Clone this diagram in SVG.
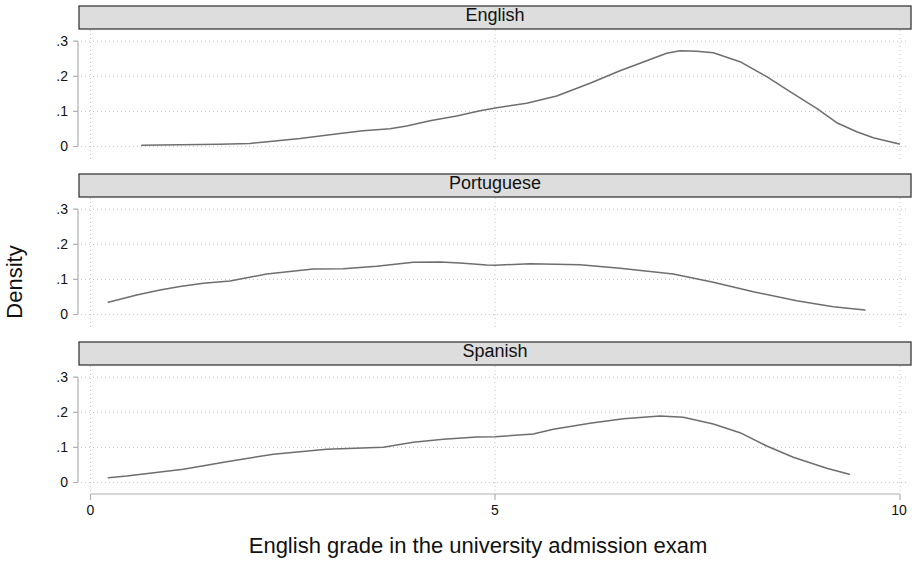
<svg xmlns="http://www.w3.org/2000/svg" width="914" height="562" viewBox="0 0 914 562">
<style>
.bg{fill:#ffffff}
.hdr{fill:#dcdddc;stroke:#3a3a3a;stroke-width:1.3}
.hdrt{font-family:"Liberation Sans",Arial,sans-serif;font-size:18px;fill:#111;text-anchor:middle}
.grid{stroke:#c4c4c4;stroke-width:1;stroke-dasharray:1 3;fill:none}
.axis{stroke:#b0b0b0;stroke-width:1.2;fill:none}
.tick{font-family:"Liberation Sans",Arial,sans-serif;font-size:14px;fill:#111}
.curve{fill:none;stroke:#6e6e6e;stroke-width:1.5;stroke-linejoin:round;stroke-linecap:round}
.title{font-family:"Liberation Sans",Arial,sans-serif;font-size:22px;fill:#111;text-anchor:middle}
</style>
<rect class="bg" x="0" y="0" width="914" height="562"/>

<g id="panel-english">
  <rect class="hdr" x="79" y="6" width="832" height="23"/>
  <text class="hdrt" x="495" y="21">English</text>
  <g class="grid">
    <line x1="81" y1="41.2" x2="908" y2="41.2"/>
    <line x1="81" y1="76.3" x2="908" y2="76.3"/>
    <line x1="81" y1="111.4" x2="908" y2="111.4"/>
    <line x1="81" y1="146.5" x2="908" y2="146.5"/>
    <line x1="90.5" y1="30" x2="90.5" y2="159"/>
    <line x1="495" y1="30" x2="495" y2="159"/>
    <line x1="900" y1="30" x2="900" y2="159"/>
  </g>
  <path class="axis" d="M78 41.2V146.5M73 41.2H78M73 76.3H78M73 111.4H78M73 146.5H78"/>
  <g class="tick" text-anchor="end">
    <text x="68" y="46">.3</text>
    <text x="68" y="81">.2</text>
    <text x="68" y="116">.1</text>
    <text x="68" y="151">0</text>
  </g>
  <polyline class="curve" points="141.7,145.3 180,144.8 220,144.2 250,143.4 270,141.5 300,138.5 320,136 340,133.5 363,130.7 390,128.7 406.7,126 430,120.7 456.7,116 480,110.7 496.7,107.7 526.7,103.3 556.7,96 590,83.3 620,70.7 646.7,60.7 666.7,53.3 680,50.7 696.7,51.3 713.3,52.7 740,61.7 766.7,76.7 790,91.7 816.7,108.3 836.7,122.7 856.7,131.7 873.3,137.7 899.3,144"/>
</g>

<g id="panel-portuguese">
  <rect class="hdr" x="79" y="174" width="832" height="23"/>
  <text class="hdrt" x="495" y="189">Portuguese</text>
  <g class="grid">
    <line x1="81" y1="209.2" x2="908" y2="209.2"/>
    <line x1="81" y1="244.3" x2="908" y2="244.3"/>
    <line x1="81" y1="279.4" x2="908" y2="279.4"/>
    <line x1="81" y1="314.5" x2="908" y2="314.5"/>
    <line x1="90.5" y1="198" x2="90.5" y2="327"/>
    <line x1="495" y1="198" x2="495" y2="327"/>
    <line x1="900" y1="198" x2="900" y2="327"/>
  </g>
  <path class="axis" d="M78 209.2V314.5M73 209.2H78M73 244.3H78M73 279.4H78M73 314.5H78"/>
  <g class="tick" text-anchor="end">
    <text x="68" y="214">.3</text>
    <text x="68" y="249">.2</text>
    <text x="68" y="284">.1</text>
    <text x="68" y="319">0</text>
  </g>
  <polyline class="curve" points="108.3,302.3 136.7,295 160,290 180,286.5 203.3,283.3 230,281 266.7,274 313.3,269 343.3,268.7 376.7,266.3 413.3,262.3 440,262 460,263 486.7,265 495,265.3 530,263.7 580,264.7 620,268.3 673.3,274 713.3,282.3 753.3,291.7 796.7,300.7 833.3,306.7 865,310"/>
</g>

<g id="panel-spanish">
  <rect class="hdr" x="79" y="342" width="832" height="23"/>
  <text class="hdrt" x="495" y="357">Spanish</text>
  <g class="grid">
    <line x1="81" y1="377.2" x2="908" y2="377.2"/>
    <line x1="81" y1="412.3" x2="908" y2="412.3"/>
    <line x1="81" y1="447.4" x2="908" y2="447.4"/>
    <line x1="81" y1="482.5" x2="908" y2="482.5"/>
    <line x1="90.5" y1="366" x2="90.5" y2="493"/>
    <line x1="495" y1="366" x2="495" y2="493"/>
    <line x1="900" y1="366" x2="900" y2="493"/>
  </g>
  <path class="axis" d="M78 377.2V482.5M73 377.2H78M73 412.3H78M73 447.4H78M73 482.5H78"/>
  <g class="tick" text-anchor="end">
    <text x="68" y="382">.3</text>
    <text x="68" y="417">.2</text>
    <text x="68" y="452">.1</text>
    <text x="68" y="487">0</text>
  </g>
  <polyline class="curve" points="108.3,477.7 126.7,476 183.3,469.3 226.7,461.7 273.3,454.3 326.7,449.3 383.3,447.3 413.3,442.3 443.3,439.3 476.7,437 495,436.7 533.3,434 553.3,429.3 590,423.3 623.3,418.7 660,416 683.3,417.3 713.3,424 740,432.7 766.7,446 793.3,457.3 826.7,468.3 849.3,474.3"/>
</g>

<g id="x-axis">
  <path class="axis" d="M90.5 494H900M90.5 494V500M495 494V500M900 494V500"/>
  <g class="tick" text-anchor="middle">
    <text x="90.5" y="515">0</text>
    <text x="495" y="515">5</text>
    <text x="899" y="515">10</text>
  </g>
  <text class="title" x="478" y="553">English grade in the university admission exam</text>
</g>

<g id="y-title">
  <text class="title" transform="translate(22,282) rotate(-90)">Density</text>
</g>
</svg>
